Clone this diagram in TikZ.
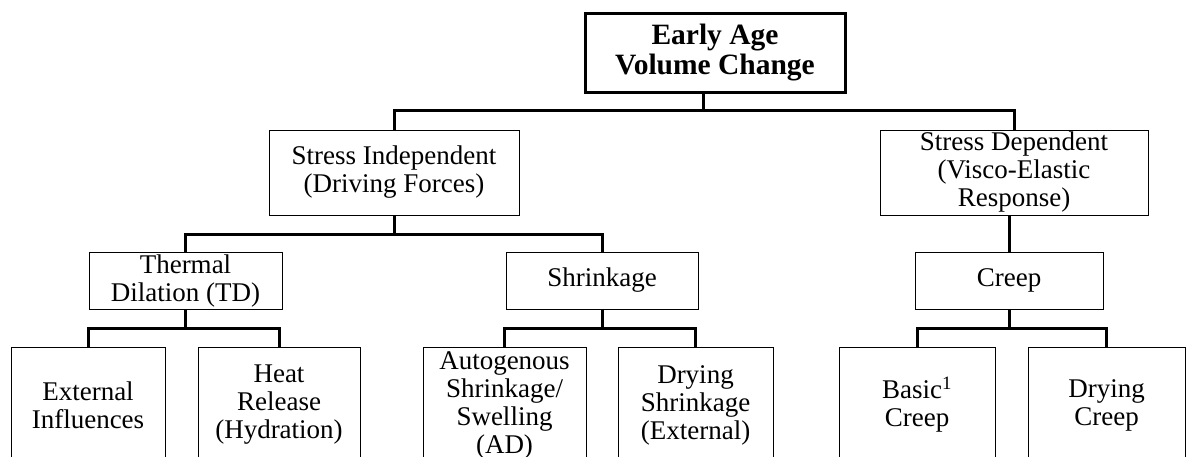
\documentclass[tikz,border=0pt]{standalone}
\usepackage{fontspec}
\setmainfont{Liberation Serif}
\usetikzlibrary{positioning}

\begin{document}
\begin{tikzpicture}[x=1pt, y=-1pt,
  box/.style={draw, line width=1pt, inner sep=0pt, outer sep=0pt, align=center,
    font=\fontsize{27}{28}\selectfont},
  topbox/.style={box, line width=3pt, font=\fontsize{29.5}{30}\selectfont\bfseries},
  bar/.style={line width=3pt, line join=miter}
]
\useasboundingbox (0,0) rectangle (1186,456);
\clip (0,0) rectangle (1186,456);

% top level
\node[topbox, minimum width=260pt, minimum height=79pt] (root) at (715,52.5) {Early Age\\Volume Change};

% second level
\node[box, minimum width=250pt, minimum height=85pt] (si) at (394,172.5) {Stress Independent\\(Driving Forces)};
\node[box, minimum width=268pt, minimum height=85pt] (sd) at (1014,172.5) {Stress Dependent\\(Visco-Elastic\\Response)};

% third level
\node[box, minimum width=193pt, minimum height=57pt] (td) at (185.5,280.5) {Thermal\\Dilation (TD)};
\node[box, minimum width=192pt, minimum height=57pt] (sh) at (602,280.5) {Shrinkage};
\node[box, minimum width=188pt, minimum height=57pt] (cr) at (1009,280.5) {Creep};

% bottom level
\node[box, minimum width=154pt, minimum height=116pt] (ext) at (88,405) {External\\Influences};
\node[box, minimum width=162pt, minimum height=116pt] (heat) at (279,405) {Heat\\Release\\(Hydration)};
\node[box, minimum width=163pt, minimum height=116pt] (auto) at (504.5,405) {Autogenous\\Shrinkage/\\Swelling\\(AD)};
\node[box, minimum width=155pt, minimum height=116pt] (dsh) at (695.5,405) {Drying\\Shrinkage\\(External)};
\node[box, minimum width=156pt, minimum height=116pt] (bc) at (917,405) {Basic\textsuperscript{1}\\Creep};
\node[box, minimum width=157pt, minimum height=116pt] (dc) at (1106.5,405) {Drying\\Creep};

\foreach \c/\p/\d/\s in {si/root/20/-12,sd/root/20/-12,td/si/18/0,sh/si/18/0,cr/sd/37/-5,
  ext/td/19/0,heat/td/19/0,auto/sh/19/0,dsh/sh/19/0,bc/cr/19/0,dc/cr/19/0}
  \draw[bar] (\c.north) -- ++(0,-\d) -| ([xshift=\s pt]\p.south);
\end{tikzpicture}
\end{document}
